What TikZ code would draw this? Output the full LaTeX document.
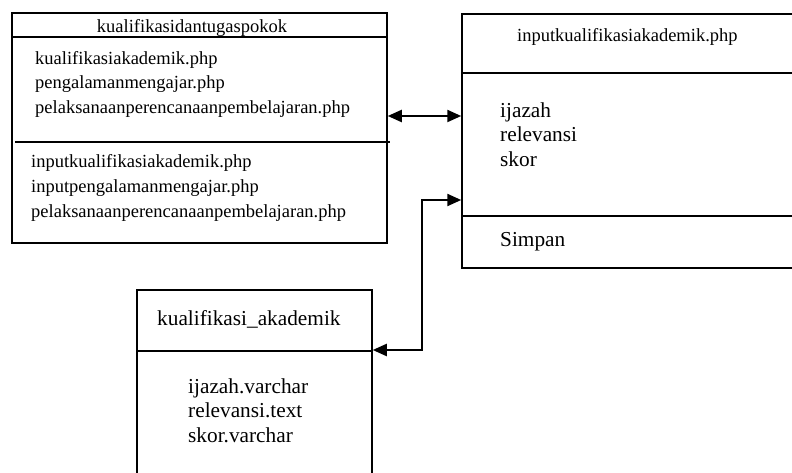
\documentclass[tikz,border=0pt]{standalone}
\usepackage{fontspec}
\setmainfont{Liberation Serif}
\usetikzlibrary{arrows.meta}
\begin{document}
\begin{tikzpicture}[x=1pt,y=-1pt,
  box/.style={draw, line width=1.5pt, rectangle, inner sep=0pt},
  divline/.style={line width=1.5pt},
  small/.style={inner sep=0pt, anchor=base west, font=\fontsize{18.5}{22}\selectfont},
  big/.style={inner sep=0pt, anchor=base west, font=\fontsize{21.3}{24}\selectfont},
  conn/.style={line width=2.2pt, {Triangle[length=14pt,width=12pt]}-{Triangle[length=14pt,width=12pt]}}]
\useasboundingbox (0,0) rectangle (792,473);
% box 1
\node[box, minimum width=375pt, minimum height=230pt] (b1) at (199.5,128) {};
\draw[divline] (12,37) -- (387,37);
\draw[divline] (15,142) -- (390,142);
\node[small, anchor=base] (b1t) at (192,33) {kualifikasidantugaspokok};
\node[small] (b1a) at (35,65) {kualifikasiakademik.php};
\node[small] (b1b) at (35,89) {pengalamanmengajar.php};
\node[small] (b1c) at (35,114) {pelaksanaanperencanaanpembelajaran.php};
\node[small] (b1d) at (31,168) {inputkualifikasiakademik.php};
\node[small] (b1e) at (31,193) {inputpengalamanmengajar.php};
\node[small] (b1f) at (31,218) {pelaksanaanperencanaanpembelajaran.php};
% box 2
\node[box, minimum width=335pt, minimum height=254pt] (b2) at (629.5,141) {};
\draw[divline] (462,73) -- (797,73);
\draw[divline] (462,216) -- (797,216);
\node[small] (b2t) at (517,42) {inputkualifikasiakademik.php};
\node[big] (b2a) at (500,118) {ijazah};
\node[big] (b2b) at (500,142) {relevansi};
\node[big] (b2c) at (500,167) {skor};
\node[big] (b2d) at (500,246) {Simpan};
% box 3
\node[box, minimum width=235pt, minimum height=190pt] (b3) at (254.5,385) {};
\draw[divline] (137,351) -- (372,351);
\node[big] (b3t) at (157,325) {kualifikasi\_akademik};
\node[big] (b3a) at (188,393) {ijazah.varchar};
\node[big] (b3b) at (188,417) {relevansi.text};
\node[big] (b3c) at (188,442) {skor.varchar};
% connectors
\coordinate (a1) at (387,116);
\coordinate (a2) at (462,116);
\draw[conn] (b1.east |- a1) -- (b2.west |- a2);
\coordinate (c1) at (372,350);
\coordinate (c2) at (422,200);
\draw[conn] (b3.east |- c1) -| (c2) -- (b2.west |- c2);
\end{tikzpicture}
\end{document}
